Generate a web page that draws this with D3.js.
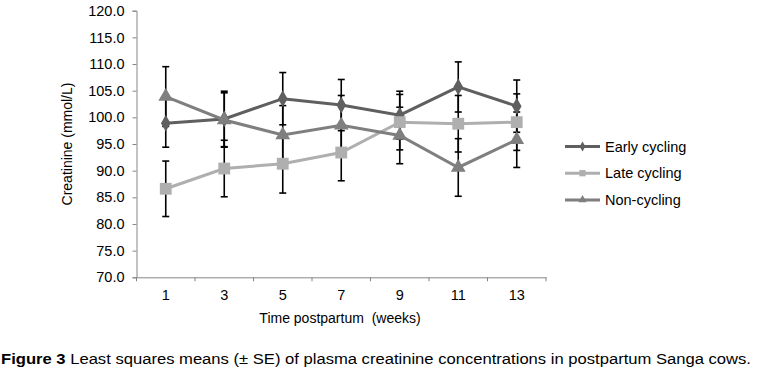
<!DOCTYPE html>
<html><head><meta charset="utf-8">
<script src="https://cdn.jsdelivr.net/npm/d3@7/dist/d3.min.js"></script>
<style>
body{margin:0;background:#fff;}
svg{display:block;font-family:"Liberation Sans",Arial,sans-serif;}
</style></head>
<body>
<svg id="chart" width="757" height="372"></svg>
<script>
const weeks = ["1","3","5","7","9","11","13"];
const yTicks = [70,75,80,85,90,95,100,105,110,115,120];
const earlyCycling = [98.9, 99.7, 103.5, 102.3, 100.4, 105.7, 102.1];
const earlySE      = [4.5, 5.2, 4.9, 4.8, 4.5, 4.7, 4.9];
const lateCycling  = [86.6, 90.4, 91.3, 93.4, 99.1, 98.8, 99.1];
const lateSE       = [5.2, 5.3, 5.5, 5.3, 5.2, 5.3, 5.3];
const nonCycling   = [103.9, 99.5, 96.7, 98.5, 96.6, 90.6, 95.8];
const nonSE        = [5.6, 5.1, 5.5, 5.6, 5.3, 5.4, 5.2];
const seriesNames  = ["Early cycling","Late cycling","Non-cycling"];

const series = [
  {name: seriesNames[0], values: earlyCycling, se: earlySE, color: "#5f5f5f", shape: d3.symbolDiamond, size: 80, lsize: 28},
  {name: seriesNames[1], values: lateCycling, se: lateSE, color: "#afafaf", shape: d3.symbolSquare, size: 140, lsize: 40},
  {name: seriesNames[2], values: nonCycling, se: nonSE, color: "#7f7f7f", shape: d3.symbolTriangle, size: 95, lsize: 30}
];

const svg = d3.select("#chart");
const x = d3.scaleBand().domain(weeks).range([136.5, 546]).padding(0);
const xi = d3.scaleLinear().domain([0, weeks.length]).range([136.5, 546]);
const y = d3.scaleLinear().domain([70,120]).range([277.3, 10.7]);
const cx = w => x(w) + x.bandwidth()/2;

// Y axis
const yAxis = svg.append("g").attr("transform","translate(136.5,0)")
  .call(d3.axisLeft(y).tickValues(yTicks).tickFormat(d3.format(".1f")).tickSize(4).tickPadding(8));
yAxis.select(".domain").attr("stroke","#868686");
yAxis.selectAll(".tick line").attr("stroke","#868686");
yAxis.selectAll("text").attr("font-size",14.5).attr("fill","#000").attr("font-family","Liberation Sans, Arial, sans-serif");

// X axis
const xAxis = svg.append("g").attr("transform","translate(0,277.3)")
  .call(d3.axisBottom(x).tickSize(0).tickPadding(12));
xAxis.select(".domain").attr("stroke","#868686");
xAxis.selectAll("text").attr("font-size",14.5).attr("fill","#000").attr("font-family","Liberation Sans, Arial, sans-serif");
xAxis.selectAll(".bt").data(d3.range(weeks.length+1)).enter().append("line")
  .attr("x1",d=>xi(d)).attr("x2",d=>xi(d)).attr("y1",0).attr("y2",4)
  .attr("stroke","#868686");

// Axis titles
svg.append("text").attr("transform","translate(72,144) rotate(-90)")
  .attr("text-anchor","middle").attr("font-size",14).text("Creatinine (mmol/L)");
svg.append("text").attr("x",340).attr("y",323).attr("text-anchor","middle")
  .attr("font-size",14).attr("xml:space","preserve").text("Time postpartum  (weeks)");

// Error bars
const eb = svg.append("g");
series.forEach(s => {
  weeks.forEach((w,i) => {
    const v = s.values[i], e = s.se[i];
    const g = eb.append("g").attr("stroke","#000").attr("stroke-width",1.6);
    g.append("line").attr("x1",cx(w)).attr("x2",cx(w)).attr("y1",y(v+e)).attr("y2",y(v-e));
    g.append("line").attr("x1",cx(w)-3.5).attr("x2",cx(w)+3.5).attr("y1",y(v+e)).attr("y2",y(v+e));
    g.append("line").attr("x1",cx(w)-3.5).attr("x2",cx(w)+3.5).attr("y1",y(v-e)).attr("y2",y(v-e));
  });
});

// Lines and markers
const line = d3.line().x((d,i)=>cx(weeks[i])).y(d=>y(d));
series.forEach(s => {
  svg.append("path").datum(s.values).attr("d",line).attr("fill","none")
    .attr("stroke",s.color).attr("stroke-width",3);
  svg.append("g").selectAll("path").data(s.values).enter().append("path")
    .attr("d", d3.symbol().type(s.shape).size(s.size))
    .attr("transform",(d,i)=>`translate(${cx(weeks[i])},${y(d)})`)
    .attr("fill",s.color);
});

// Legend
const leg = svg.append("g");
series.forEach((s,i) => {
  const ly = 146.5 + i*26.7;
  leg.append("line").attr("x1",565).attr("x2",600).attr("y1",ly).attr("y2",ly)
    .attr("stroke",s.color).attr("stroke-width",3);
  leg.append("path").attr("d",d3.symbol().type(s.shape).size(s.lsize))
    .attr("transform",`translate(582.5,${ly})`).attr("fill",s.color);
  leg.append("text").attr("x",605).attr("y",ly+5).attr("font-size",14.5).text(s.name);
});

// Caption
const cap = svg.append("text").attr("x",1).attr("y",364).attr("font-size",15.5)
  .attr("font-family","Liberation Sans Narrow, Arial Narrow, Liberation Sans, Arial, sans-serif")
  .attr("textLength",750).attr("lengthAdjust","spacingAndGlyphs");
cap.append("tspan").attr("font-weight","bold").text("Figure 3");
cap.append("tspan").text(" Least squares means (± SE) of plasma creatinine concentrations in postpartum Sanga cows.");
</script>
</body></html>
